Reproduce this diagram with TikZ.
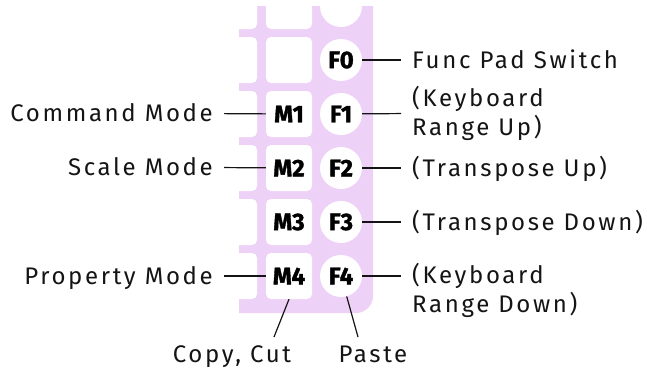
\documentclass[tikz,border=0pt]{standalone}
\usepackage{fontspec}
\setmainfont{Fira Sans}
\newfontfamily\spacedfont{Fira Sans}[LetterSpace=11]
\newfontfamily\keyfont{Fira Sans}[BoldFeatures={FakeBold=1.5}]
\usetikzlibrary{positioning}

\definecolor{keypink}{RGB}{238,209,246}
\definecolor{inkgray}{RGB}{20,20,20}

\tikzset{
  keybox/.style = {fill=white, rounded corners=5pt, minimum size=46pt, inner sep=0pt,
                   font=\keyfont\fontsize{24}{24}\selectfont\bfseries},
  fkey/.style   = {circle, fill=white, minimum size=42pt, inner sep=0pt,
                   font=\keyfont\fontsize{24}{24}\selectfont\bfseries},
  lbl/.style    = {inner xsep=11pt, inner ysep=0pt, text=inkgray,
                   font=\spacedfont\fontsize{24}{29}\selectfont,
                   text height=16.5pt, text depth=0pt},
  lbltwo/.style = {lbl, align=left, text height=, text depth=},
  wire/.style   = {draw=inkgray, line width=1.2pt},
}

\begin{document}
\begin{tikzpicture}[x=1pt,y=-1pt]
	\useasboundingbox (0,0) rectangle (647,372);
	% pad plate
	\begin{scope}
		\clip (239,6) rectangle (373,313);
		\fill[keypink, rounded corners=17pt] (200,-40) rectangle (373,313);
	\end{scope}
	% blank keys
	\foreach \y in {6,60,...,276}
		\node[keybox] at (234,\y) {};
	\node[keybox] (k0) at (289,6) {};
	\node[keybox] (k1) at (289,60) {};
	\node[fkey] (ftop) at (341,6) {};
	% labelled keys
	\node[fkey] (f0) at (341,60) {F0};
	\node[keybox] (m1) at (289,114) {M1};
	\node[fkey] (f1) at (341,114) {F1};
	\node[keybox] (m2) at (289,168) {M2};
	\node[fkey] (f2) at (341,168) {F2};
	\node[keybox] (m3) at (289,222) {M3};
	\node[fkey] (f3) at (341,222) {F3};
	\node[keybox] (m4) at (289,276) {M4};
	\node[fkey] (f4) at (341,276) {F4};
	% labels
	\node[lbl, anchor=east] (cmd) at (224,113) {Command Mode};
	\node[lbl, anchor=east] (scl) at (224,167) {Scale Mode};
	\node[lbl, anchor=east] (prp) at (224,276) {Property Mode};
	\node[lbl, anchor=west] (fps) at (401,60) {Func Pad Switch};
	\node[lbltwo, anchor=west] (kru) at (401,113) {(Keyboard\\Range Up)};
	\node[lbl, anchor=west] (tru) at (401,168) {(Transpose Up)};
	\node[lbl, anchor=west] (trd) at (401,222) {(Transpose Down)};
	\node[lbltwo, anchor=west] (krd) at (401,290) {(Keyboard\\Range Down)};
	\node[lbl] (cpy) at (232,354) {Copy, Cut};
	\node[lbl] (pst) at (373,354) {Paste};
	\coordinate (cpyend) at (274,337);
	\coordinate (pstend) at (358,337);
	% wires
	\draw[wire] (cmd) -- (m1);
	\draw[wire] (scl) -- (m2);
	\draw[wire] (prp) -- (m4);
	\draw[wire] (f0) -- (fps);
	\draw[wire] (f1) -- (kru);
	\draw[wire] (f2) -- (tru);
	\draw[wire] (f3) -- (trd);
	\draw[wire] (f4) -- (f4 -| krd.west);
	\draw[wire] (m4.south) -- (cpyend);
	\draw[wire] (f4) -- (pstend);
\end{tikzpicture}
\end{document}
